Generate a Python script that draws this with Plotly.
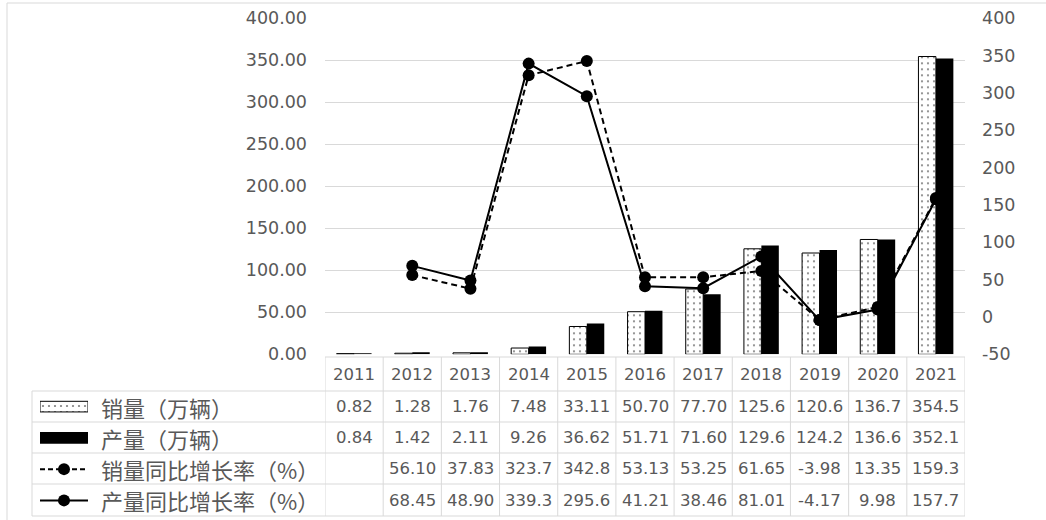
import plotly.graph_objects as go

# ---- data ----
years = ["2011", "2012", "2013", "2014", "2015", "2016", "2017", "2018", "2019", "2020", "2021"]
sales = [0.82, 1.28, 1.76, 7.48, 33.11, 50.70, 77.70, 125.6, 120.6, 136.7, 354.5]
output = [0.84, 1.42, 2.11, 9.26, 36.62, 51.71, 71.60, 129.6, 124.2, 136.6, 352.1]
sales_yoy = [None, 56.10, 37.83, 323.7, 342.8, 53.13, 53.25, 61.65, -3.98, 13.35, 159.3]
output_yoy = [None, 68.45, 48.90, 339.3, 295.6, 41.21, 38.46, 81.01, -4.17, 9.98, 157.7]
row_labels = ["销量（万辆）", "产量（万辆）", "销量同比增长率（%）", "产量同比增长率（%）"]
left_ticks = list(range(0, 401, 50))
right_ticks = list(range(-50, 401, 50))

W, H = 1046, 520
GRID = "#d9d9d9"
TXT = "#595959"
NUM_FONT = "DejaVu Sans"
CJK_FONT = "Noto Sans CJK SC"


def px(x):
    return x / W


def py(y):
    return 1 - y / H


def fmt(v):
    if v is None:
        return ""
    return f"{v:.1f}" if abs(v) >= 100 else f"{v:.2f}"


dot_pattern = dict(shape=".", fgcolor="black", bgcolor="white", size=6, solidity=0.11)

fig = go.Figure()

# bars (left axis)
fig.add_trace(go.Bar(x=years, y=sales, name=row_labels[0],
                     marker=dict(color="white", pattern=dot_pattern,
                                 line=dict(color="black", width=1))))
fig.add_trace(go.Bar(x=years, y=output, name=row_labels[1],
                     marker=dict(color="black", line=dict(color="black", width=0))))

# growth lines (right axis)
fig.add_trace(go.Scatter(x=years, y=sales_yoy, name=row_labels[2], yaxis="y2",
                         mode="lines+markers", line=dict(color="black", width=2, dash="6px,4px"),
                         marker=dict(color="black", size=12)))
fig.add_trace(go.Scatter(x=years, y=output_yoy, name=row_labels[3], yaxis="y2",
                         mode="lines+markers", line=dict(color="black", width=2),
                         marker=dict(color="black", size=12)))

# legend keys inside the data table (own hidden axes)
fig.add_trace(go.Bar(x=[1], y=[3.5], base=[0], orientation="h", width=0.34, offset=-0.17,
                     xaxis="x3", yaxis="y3",
                     marker=dict(color="white", pattern=dot_pattern,
                                 line=dict(color="black", width=1))))
fig.add_trace(go.Bar(x=[1], y=[2.5], base=[0], orientation="h", width=0.38, offset=-0.19,
                     xaxis="x3", yaxis="y3",
                     marker=dict(color="black", line=dict(color="black", width=0))))
fig.add_trace(go.Scatter(x=[0, 0.5, 1], y=[1.5, 1.5, 1.5], xaxis="x3", yaxis="y3",
                         mode="lines", line=dict(color="black", width=2, dash="5px,3px")))
fig.add_trace(go.Scatter(x=[0, 1], y=[0.5, 0.5], xaxis="x3", yaxis="y3",
                         mode="lines", line=dict(color="black", width=2)))
fig.add_trace(go.Scatter(x=[0.5, 0.5], y=[1.5, 0.5], xaxis="x3", yaxis="y3",
                         mode="markers", marker=dict(color="black", size=12,
                                                     line=dict(color="black", width=0))))

x_dom = [px(325), px(965)]
y_dom = [py(354.3), py(18.3)]

fig.update_layout(
    width=W, height=H, autosize=False,
    margin=dict(l=0, r=0, t=0, b=0, pad=0, autoexpand=False),
    paper_bgcolor="white", plot_bgcolor="white",
    showlegend=False,
    barmode="group", bargap=0.4, bargroupgap=0,
    xaxis=dict(domain=x_dom, type="category", range=[-0.5, 10.5], automargin=False,
               showticklabels=False, showgrid=False, zeroline=False, showline=False, ticks=""),
    yaxis=dict(domain=y_dom, range=[0, 400], tickvals=left_ticks,
               ticktext=[f"{v:.2f}" for v in left_ticks],
               automargin=False,
               showgrid=True, gridcolor=GRID, gridwidth=1, zeroline=False, showline=False,
               ticks="", ticklabelstandoff=17,
               tickfont=dict(family=NUM_FONT, size=17.5, color=TXT)),
    yaxis2=dict(overlaying="y", side="right", range=[-50, 400], tickvals=right_ticks,
                ticktext=[str(v) for v in right_ticks],
                automargin=False,
                showgrid=False, zeroline=False, showline=False, ticks="",
                ticklabelstandoff=16,
                tickfont=dict(family=NUM_FONT, size=17.5, color=TXT)),
    xaxis3=dict(domain=[px(40), px(88)], range=[0, 1], visible=False, anchor="y3",
                automargin=False),
    yaxis3=dict(domain=[py(516), py(391)], range=[0, 4], visible=False, anchor="x3",
                automargin=False),
)

# ---- data table under the plot ----
row_lines = [391, 422, 453, 484, 516]
row_centers = [406.5, 437.5, 468.5, 500]
table_top = 357

shapes = []
# chart border (top and left edges)
shapes.append(dict(type="line", xref="paper", yref="paper", x0=px(7), x1=1, y0=py(3), y1=py(3),
                   line=dict(color=GRID, width=1)))
shapes.append(dict(type="line", xref="paper", yref="paper", x0=px(7), x1=px(7), y0=py(3), y1=0,
                   line=dict(color=GRID, width=1)))
# column separators
for i in range(len(years) + 1):
    shapes.append(dict(type="line", xref="x", yref="paper",
                       x0=i - 0.5, x1=i - 0.5, y0=py(table_top), y1=py(row_lines[-1]),
                       line=dict(color=GRID, width=1)))
shapes.append(dict(type="line", xref="paper", yref="paper",
                   x0=px(32), x1=px(32), y0=py(row_lines[0]), y1=py(row_lines[-1]),
                   line=dict(color=GRID, width=1)))
# row separators
shapes.append(dict(type="line", xref="x", yref="paper", x0=-0.5, x1=len(years) - 0.5,
                   y0=py(table_top), y1=py(table_top), line=dict(color=GRID, width=1)))
for yl in row_lines:
    shapes.append(dict(type="line", xref="paper", yref="paper", x0=px(32), x1=x_dom[1],
                       y0=py(yl), y1=py(yl), line=dict(color=GRID, width=1)))

annotations = []
for i, yr in enumerate(years):
    annotations.append(dict(x=i, y=py((table_top + row_lines[0]) / 2), xref="x", yref="paper",
                            text=yr, showarrow=False, xanchor="center", yanchor="middle",
                            font=dict(family=NUM_FONT, size=16.5, color=TXT)))
for label, values, yc in zip(row_labels, [sales, output, sales_yoy, output_yoy], row_centers):
    annotations.append(dict(x=px(99), y=py(yc), xref="paper", yref="paper", text=label,
                            showarrow=False, xanchor="left", yanchor="middle",
                            font=dict(family=CJK_FONT, size=22, color=TXT)))
    for i, v in enumerate(values):
        if v is None:
            continue
        annotations.append(dict(x=i, y=py(yc), xref="x", yref="paper", text=fmt(v),
                                showarrow=False, xanchor="center", yanchor="middle",
                                font=dict(family=NUM_FONT, size=16.5, color=TXT)))

fig.update_layout(shapes=shapes, annotations=annotations)

fig.write_html("out.html")
